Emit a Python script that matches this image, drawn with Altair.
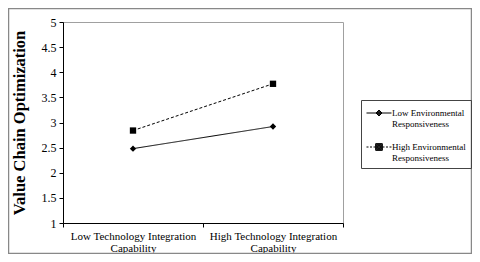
import altair as alt
import pandas as pd

categories = ["Low Technology Integration|Capability", "High Technology Integration|Capability"]
series_names = ["Low Environmental|Responsiveness", "High Environmental|Responsiveness"]
low_env = [2.48, 2.92]
high_env = [2.84, 3.77]
y_ticks = [1, 1.5, 2, 2.5, 3, 3.5, 4, 4.5, 5]

rows = []
for s, vals in zip(series_names, [low_env, high_env]):
    for c, v in zip(categories, vals):
        rows.append({"cat": c, "series": s, "value": v})
df = pd.DataFrame(rows)

FONT = "Liberation Serif"

x_enc = alt.X(
    "cat:N", sort=categories,
    scale=alt.Scale(type="band", paddingInner=0, paddingOuter=0),
    axis=alt.Axis(title=None, labelAngle=0, labelExpr="split(datum.label, '|')",
                  tickBand="extent", labelFontSize=11, labelLineHeight=12,
                  tickSize=4, labelPadding=3, domainColor="black", tickColor="black",
                  labelColor="black", labelFont=FONT, grid=False),
)
y_enc = alt.Y(
    "value:Q",
    scale=alt.Scale(domain=[1, 5], nice=False, zero=False),
    axis=alt.Axis(values=y_ticks, format="~g", title="Value Chain Optimization",
                  titleFont=FONT, titleFontSize=16.5, titleFontWeight="bold",
                  titleColor="black", titlePadding=14,
                  labelFont=FONT, labelFontSize=12, labelColor="black",
                  tickSize=4, labelPadding=3, domainColor="black", tickColor="black",
                  grid=False),
)

base = alt.Chart(df)

lines = base.mark_line(color="black", strokeWidth=1).encode(
    x=x_enc, y=y_enc,
    strokeDash=alt.StrokeDash("series:N", scale=alt.Scale(domain=series_names, range=[[1, 0], [3, 2]]), legend=None),
)

points = base.mark_point(filled=True, color="black", size=40, opacity=1).encode(
    x=x_enc, y=y_enc,
    shape=alt.Shape("series:N", scale=alt.Scale(domain=series_names, range=["diamond", "square"]), legend=None),
)

# legend glyphs: a line (solid / dashed) with a marker in the middle
low_path = ("M-1.667,0H1.667"
            "M-0.4,0L0,-0.4L0.4,0L0,0.4Z"
            "M-0.3,0L0,-0.3L0.3,0L0,0.3Z"
            "M-0.2,0L0,-0.2L0.2,0L0,0.2Z"
            "M-0.1,0L0,-0.1L0.1,0L0,0.1Z")
high_path = ("M-1.667,0H-1.4M-1.2,0H-0.933M-0.733,0H-0.467"
             "M0.467,0H0.733M0.933,0H1.2M1.4,0H1.667"
             "M-0.45,-0.45H0.45V0.45H-0.45Z"
             "M-0.36,-0.36H0.36V0.36H-0.36Z"
             "M-0.27,-0.27H0.27V0.27H-0.27Z"
             "M-0.18,-0.18H0.18V0.18H-0.18Z"
             "M-0.09,-0.09H0.09V0.09H-0.09Z")

legend_layer = base.mark_point(filled=False, color="black", strokeWidth=1, opacity=0).encode(
    x=x_enc, y=y_enc,
    shape=alt.Shape("series:N", scale=alt.Scale(domain=series_names, range=[low_path, high_path]),
                    legend=alt.Legend(title=None, orient="none", legendX=298, legendY=78,
                                      labelExpr="split(datum.label, '|')",
                                      labelFont=FONT, labelFontSize=9,
                                      labelColor="black", labelLimit=0,
                                      symbolSize=225, symbolStrokeColor="black",
                                      symbolFillColor="black", symbolStrokeWidth=1,
                                      symbolOpacity=1, strokeColor="#444", padding=5,
                                      rowPadding=10, symbolOffset=5, labelOffset=5)),
)

frame = alt.Chart(pd.DataFrame({"a": [0]})).mark_rect(
    fill="transparent", stroke="#888", strokeWidth=1.5
).encode(x=alt.value(-54.5), x2=alt.value(408.5), y=alt.value(-13.5), y2=alt.value(231.5))

chart = alt.layer(lines, points, legend_layer, frame).resolve_scale(
    shape="independent"
).properties(
    width=280, height=201,
    padding={"left": 55, "top": 14, "right": 129, "bottom": 31},
    autosize=alt.AutoSizeParams(type="none"),
).configure_view(stroke="#a0a0a0", strokeWidth=1)

chart.save("out.html", embed_options={"renderer": "svg", "actions": False})
